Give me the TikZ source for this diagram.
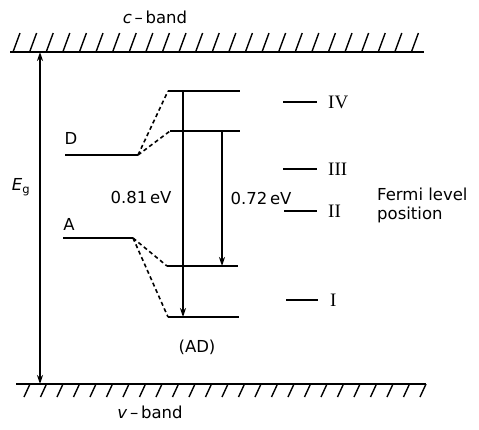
\documentclass[tikz,border=0pt]{standalone}
\usepackage{fontspec}
\setmainfont{DejaVu Sans}
\newfontfamily\romfont{Liberation Serif}
\usetikzlibrary{arrows.meta,calc}
\tikzset{
  lbl/.style={inner sep=0pt, font=\fontsize{16.5}{19}\selectfont},
  rom/.style={inner sep=0pt, anchor=west, font=\romfont\fontsize{19}{21}\selectfont},
  band/.style={line width=1.8pt},
  hatch/.style={line width=1.4pt},
  thin lvl/.style={line width=1.6pt},
  thick lvl/.style={line width=2.5pt},
  dash lvl/.style={line width=1.6pt, dash pattern=on 4pt off 3pt},
  arr/.style={-{Stealth[length=9pt,width=6pt]}},
}
\begin{document}
\begin{tikzpicture}[x=1pt,y=-1pt]
\useasboundingbox (0,0) rectangle (479,429);
% bands
\coordinate (cL) at (10,52); \coordinate (cR) at (424,52);
\coordinate (vL) at (16,384); \coordinate (vR) at (426,384);
\draw[band] (cL) -- (cR);
\draw[band] (vL) -- (vR);
\foreach \i in {0,...,24}{
  \draw[hatch] ($(13,52)+(\i*16.6,0)$) -- ++(7,-19);
  \draw[hatch] ($(30,384)+(\i*16.5,0)$) -- ++(-6,13);
}
\node[lbl] (cb) at (155,17) {\textit{c}\,–\,band};
\node[lbl] (vb) at (150,412) {\textit{v}\,–\,band};
% Eg
\coordinate (egT) at (40,52); \coordinate (egB) at (40,384);
\draw[line width=1.5pt, {Stealth[length=9pt,width=6pt]}-{Stealth[length=9pt,width=6pt]}] (egT) -- (egB);
\node[lbl] (eg) at (21,187) {\textit{E}\textsubscript{g}};
% D and A levels
\coordinate (D0) at (65,155); \coordinate (D1) at (138,155);
\coordinate (A0) at (63,238); \coordinate (A1) at (133,238);
\draw[thick lvl] (D0) -- (D1);
\draw[thin lvl] (A0) -- (A1);
\node[lbl] (Dl) at (71,138) {D};
\node[lbl] (Al) at (69,224) {A};
% shifted levels
\coordinate (L1a) at (168,91);  \coordinate (L1b) at (240,91);
\coordinate (L2a) at (170,131); \coordinate (L2b) at (240,131);
\coordinate (L3a) at (167,266); \coordinate (L3b) at (238,266);
\coordinate (L4a) at (168,317); \coordinate (L4b) at (239,317);
\draw[thin lvl] (L1a) -- (L1b);
\draw[thick lvl] (L2a) -- (L2b);
\draw[thick lvl] (L3a) -- (L3b);
\draw[thick lvl] (L4a) -- (L4b);
\draw[dash lvl] (D1) -- (L1a);
\draw[dash lvl] (D1) -- (L2a);
\draw[dash lvl] (A1) -- (L3a);
\draw[dash lvl] (A1) -- (L4a);
% transitions
\coordinate (t1a) at (183,91); \coordinate (t1b) at (183,317);
\coordinate (t2a) at (222,131); \coordinate (t2b) at (222,266);
\draw[line width=1.6pt, arr] (t1a) -- (t1b);
\draw[line width=2.4pt, arr] (t2a) -- (t2b);
\node[lbl] (e1) at (141,197) {0.81\,eV};
\node[lbl] (e2) at (261,198) {0.72\,eV};
\node[lbl] (ad) at (197,347) {(AD)};
% Fermi positions
\coordinate (f4a) at (283,102); \coordinate (f4b) at (317,102);
\coordinate (f3a) at (283,169); \coordinate (f3b) at (317,169);
\coordinate (f2a) at (284,211); \coordinate (f2b) at (317,211);
\coordinate (f1a) at (286,300); \coordinate (f1b) at (318,300);
\foreach \p in {4,3,2,1}{\draw[line width=2pt] (f\p a) -- (f\p b);}
\node[rom] (r4) at (328,102) {IV};
\node[rom] (r3) at (328,169) {III};
\node[rom] (r2) at (328,211) {II};
\node[rom] (r1) at (330,300) {I};
\node[lbl, anchor=west, align=left] (fl) at (377,205) {Fermi level\\position};
\end{tikzpicture}
\end{document}
